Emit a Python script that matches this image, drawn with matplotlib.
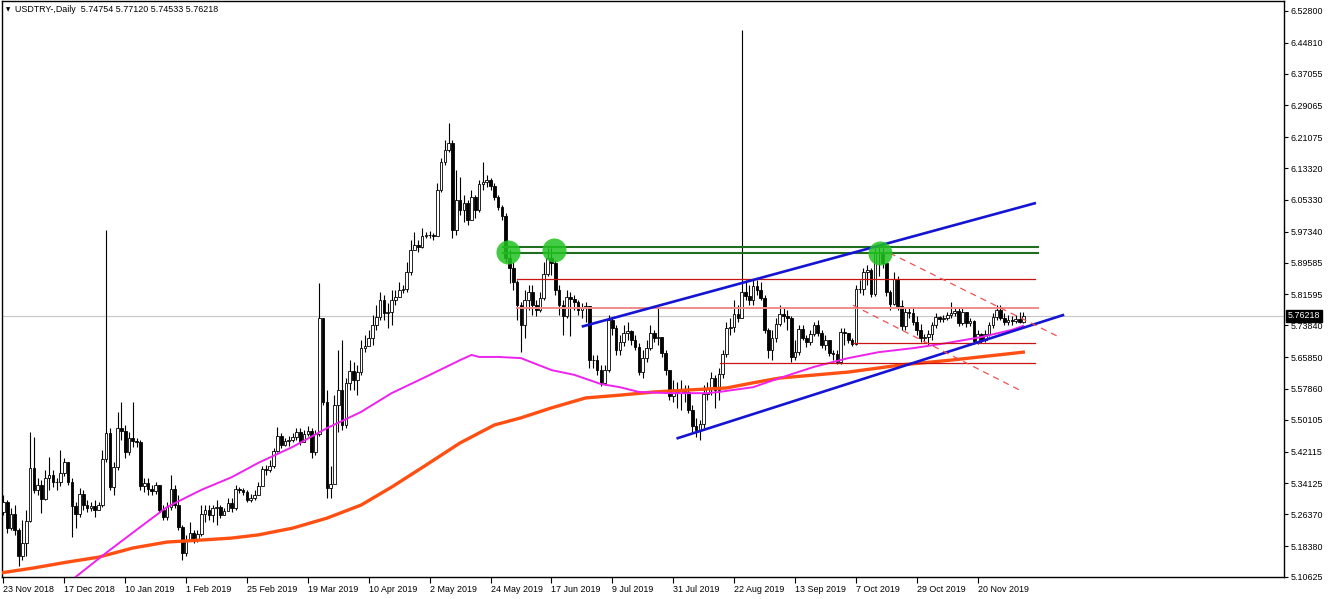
import numpy as np
import matplotlib.pyplot as plt
from matplotlib.transforms import blended_transform_factory

# daily candles (open = previous close)
first_open = 5.270
closes = [
    5.295, 5.229, 5.264, 5.224, 5.159, 5.192, 5.247, 5.380, 5.325, 5.337,
    5.302, 5.355, 5.362, 5.345, 5.345, 5.367, 5.395, 5.345, 5.284, 5.264,
    5.315, 5.287, 5.279, 5.284, 5.274, 5.287, 5.402, 5.468, 5.332, 5.382,
    5.480, 5.473, 5.420, 5.455, 5.448, 5.445, 5.335, 5.342, 5.327, 5.322,
    5.337, 5.274, 5.257, 5.282, 5.327, 5.287, 5.232, 5.167, 5.197, 5.217,
    5.199, 5.214, 5.264, 5.274, 5.262, 5.279, 5.282, 5.262, 5.272, 5.292,
    5.279, 5.327, 5.325, 5.320, 5.300, 5.305, 5.312, 5.335,
    5.377, 5.375, 5.385, 5.423, 5.460, 5.438, 5.448, 5.450, 5.458, 5.470,
    5.445, 5.465, 5.473, 5.420, 5.465, 5.757, 5.546, 5.330, 5.340, 5.538,
    5.576, 5.488, 5.594, 5.624, 5.601, 5.621, 5.681, 5.686, 5.706, 5.739,
    5.759, 5.802, 5.769, 5.772, 5.802, 5.810, 5.827, 5.830, 5.872, 5.928,
    5.940, 5.935, 5.963, 5.965, 5.965, 5.963, 6.078, 6.149, 6.179, 6.196,
    5.978, 6.053, 6.028, 6.045, 6.003, 6.061, 6.028, 6.093, 6.098, 6.103,
    6.088, 6.061, 6.036, 6.013, 5.907, 5.882, 5.847, 5.789,
    5.739, 5.802, 5.822, 5.789, 5.777, 5.807, 5.867, 5.907, 5.895, 5.827,
    5.789, 5.762, 5.810, 5.805, 5.797, 5.777, 5.782, 5.787, 5.651, 5.651,
    5.626, 5.594, 5.626, 5.752, 5.732, 5.676, 5.696, 5.719, 5.724, 5.701,
    5.684, 5.621, 5.656, 5.681, 5.719, 5.706, 5.709, 5.669, 5.626, 5.561,
    5.576, 5.568, 5.576, 5.571, 5.526, 5.485, 5.475, 5.490, 5.566, 5.579,
    5.606, 5.576, 5.616, 5.666, 5.732, 5.734, 5.767, 5.757, 5.822, 5.812,
    5.802, 5.837, 5.827, 5.807, 5.727, 5.676, 5.706, 5.742,
    5.767, 5.762, 5.757, 5.659, 5.671, 5.729, 5.706, 5.696, 5.716, 5.739,
    5.719, 5.689, 5.701, 5.669, 5.666, 5.646, 5.722, 5.719, 5.701, 5.691,
    5.830, 5.830, 5.872, 5.877, 5.817, 5.920, 5.922, 5.895, 5.822, 5.792,
    5.855, 5.787, 5.737, 5.772, 5.769, 5.747, 5.727, 5.706, 5.709, 5.716,
    5.739, 5.759, 5.754, 5.757, 5.764, 5.769, 5.774, 5.744, 5.772, 5.744,
    5.749, 5.699, 5.716, 5.701, 5.716, 5.739, 5.759, 5.777, 5.757, 5.747,
    5.752, 5.749, 5.754, 5.748, 5.76218,
]
highs = [
    5.312, 5.300, 5.279, 5.287, 5.229, 5.249, 5.274, 5.470, 5.458, 5.355,
    5.350, 5.375, 5.408, 5.375, 5.355, 5.425, 5.405, 5.395, 5.355, 5.295,
    5.330, 5.325, 5.300, 5.295, 5.300, 5.295, 5.425, 5.978, 5.480, 5.395,
    5.521, 5.546, 5.488, 5.470, 5.546, 5.455, 5.450, 5.355, 5.355, 5.337,
    5.345, 5.337, 5.287, 5.295, 5.362, 5.337, 5.312, 5.237, 5.212, 5.244,
    5.224, 5.224, 5.287, 5.287, 5.287, 5.287, 5.300, 5.287, 5.279, 5.305,
    5.305, 5.337, 5.332, 5.330, 5.325, 5.315, 5.325, 5.345,
    5.385, 5.387, 5.400, 5.430, 5.483, 5.468, 5.455, 5.460, 5.468, 5.480,
    5.480, 5.475, 5.485, 5.480, 5.475, 5.845, 5.757, 5.576, 5.385, 5.563,
    5.676, 5.701, 5.606, 5.651, 5.646, 5.639, 5.701, 5.714, 5.727, 5.764,
    5.789, 5.822, 5.815, 5.794, 5.827, 5.827, 5.847, 5.840, 5.897, 5.953,
    5.973, 5.953, 5.983, 5.973, 5.975, 5.970, 6.096, 6.159, 6.204, 6.246,
    6.204, 6.129, 6.111, 6.066, 6.053, 6.078, 6.066, 6.103, 6.149, 6.116,
    6.108, 6.096, 6.066, 6.041, 6.020, 5.928, 5.897, 5.852,
    5.797, 5.827, 5.840, 5.840, 5.802, 5.822, 5.897, 5.933, 5.933, 5.902,
    5.840, 5.802, 5.827, 5.822, 5.815, 5.802, 5.794, 5.797, 5.757, 5.664,
    5.664, 5.639, 5.639, 5.764, 5.757, 5.739, 5.714, 5.739, 5.747, 5.727,
    5.714, 5.694, 5.676, 5.701, 5.739, 5.727, 5.784, 5.709, 5.676, 5.626,
    5.601, 5.596, 5.601, 5.589, 5.589, 5.538, 5.506, 5.501, 5.589, 5.596,
    5.621, 5.614, 5.631, 5.676, 5.747, 5.757, 5.802, 5.789, 6.480, 5.852,
    5.840, 5.852, 5.852, 5.847, 5.815, 5.732, 5.727, 5.757,
    5.789, 5.782, 5.777, 5.762, 5.701, 5.739, 5.739, 5.714, 5.727, 5.747,
    5.752, 5.727, 5.714, 5.701, 5.676, 5.676, 5.732, 5.732, 5.714, 5.706,
    5.840, 5.852, 5.882, 5.890, 5.882, 5.933, 5.938, 5.933, 5.895, 5.827,
    5.872, 5.862, 5.802, 5.782, 5.782, 5.782, 5.762, 5.742, 5.716, 5.727,
    5.747, 5.769, 5.762, 5.764, 5.772, 5.797, 5.782, 5.782, 5.782, 5.757,
    5.757, 5.752, 5.727, 5.719, 5.727, 5.747, 5.769, 5.789, 5.789, 5.769,
    5.764, 5.762, 5.764, 5.772, 5.77120,
]
lows = [
    5.262, 5.217, 5.224, 5.212, 5.134, 5.149, 5.159, 5.244, 5.317, 5.312,
    5.267, 5.300, 5.325, 5.332, 5.325, 5.335, 5.360, 5.337, 5.207, 5.229,
    5.257, 5.274, 5.269, 5.272, 5.257, 5.274, 5.282, 5.395, 5.325, 5.312,
    5.375, 5.450, 5.405, 5.413, 5.433, 5.433, 5.325, 5.320, 5.312, 5.312,
    5.315, 5.269, 5.249, 5.249, 5.274, 5.279, 5.224, 5.149, 5.159, 5.199,
    5.192, 5.194, 5.209, 5.244, 5.249, 5.244, 5.237, 5.254, 5.264, 5.274,
    5.269, 5.274, 5.317, 5.312, 5.295, 5.295, 5.300, 5.312,
    5.335, 5.362, 5.370, 5.380, 5.420, 5.430, 5.435, 5.435, 5.445, 5.450,
    5.438, 5.450, 5.460, 5.405, 5.413, 5.460, 5.538, 5.305, 5.305, 5.350,
    5.470, 5.475, 5.480, 5.576, 5.576, 5.563, 5.614, 5.671, 5.689, 5.689,
    5.727, 5.752, 5.752, 5.732, 5.739, 5.789, 5.815, 5.820, 5.822, 5.865,
    5.928, 5.922, 5.933, 5.958, 5.958, 5.953, 5.978, 6.073, 6.141, 6.174,
    5.958, 5.965, 6.015, 5.998, 5.990, 6.015, 6.008, 6.023, 6.078, 6.086,
    6.078, 6.053, 6.028, 6.003, 5.897, 5.845, 5.827, 5.752,
    5.671, 5.706, 5.777, 5.764, 5.762, 5.772, 5.802, 5.862, 5.865, 5.815,
    5.764, 5.714, 5.757, 5.711, 5.777, 5.764, 5.757, 5.747, 5.631, 5.631,
    5.614, 5.586, 5.589, 5.621, 5.714, 5.664, 5.664, 5.686, 5.701, 5.689,
    5.676, 5.614, 5.606, 5.646, 5.676, 5.696, 5.689, 5.659, 5.614, 5.551,
    5.546, 5.531, 5.526, 5.546, 5.518, 5.470, 5.458, 5.450, 5.480, 5.551,
    5.563, 5.531, 5.551, 5.606, 5.659, 5.714, 5.722, 5.747, 5.757, 5.802,
    5.789, 5.789, 5.815, 5.802, 5.719, 5.656, 5.651, 5.696,
    5.737, 5.747, 5.727, 5.646, 5.651, 5.664, 5.701, 5.684, 5.689, 5.711,
    5.711, 5.681, 5.676, 5.661, 5.651, 5.641, 5.641, 5.689, 5.694, 5.686,
    5.689, 5.820, 5.815, 5.840, 5.810, 5.812, 5.862, 5.882, 5.812, 5.777,
    5.789, 5.777, 5.727, 5.727, 5.757, 5.739, 5.714, 5.696, 5.696, 5.689,
    5.701, 5.732, 5.747, 5.747, 5.752, 5.757, 5.762, 5.737, 5.739, 5.734,
    5.737, 5.691, 5.691, 5.694, 5.696, 5.711, 5.732, 5.752, 5.752, 5.739,
    5.739, 5.739, 5.744, 5.744, 5.74533,
]

# moving averages (magenta and orange), sampled at bar numbers
pink_bars = [15, 18, 27, 36, 43, 52, 60, 67, 76, 85, 94, 102, 111, 120, 123, 125, 130,
             136, 144, 150, 157, 162, 167, 175, 185, 188, 197, 204, 213, 222, 230,
             239, 248, 257, 265, 268]
pink_vals = [5.050, 5.099, 5.167, 5.232, 5.282, 5.325, 5.357, 5.393, 5.433, 5.480, 5.521,
             5.568, 5.609, 5.651, 5.664, 5.659, 5.659, 5.656, 5.626, 5.614, 5.591,
             5.583, 5.571, 5.568, 5.568, 5.571, 5.583, 5.606, 5.634, 5.656, 5.671,
             5.681, 5.694, 5.709, 5.727, 5.737]
orange_bars = [-1, 8, 17, 25, 34, 43, 52, 60, 67, 76, 85, 94, 102, 111, 120, 129, 136,
               144, 153, 162, 171, 180, 190, 197, 204, 222, 236, 249, 268]
orange_vals = [5.116, 5.129, 5.144, 5.156, 5.179, 5.194, 5.199, 5.204, 5.212, 5.229,
               5.254, 5.287, 5.332, 5.387, 5.443, 5.488, 5.506, 5.531, 5.556, 5.563,
               5.571, 5.576, 5.581, 5.594, 5.606, 5.621, 5.639, 5.651, 5.671]

# drawn objects: (start bar, end bar, price)
green_levels = [(131.3, 271.8, 5.936), (131.3, 271.8, 5.920)]
red_levels = [(134.9, 271.0, 5.854), (223.2, 271.0, 5.695), (188.3, 271.0, 5.645)]
pink_level = (134.9, 271.8, 5.782)
blue_lines = [((152.3, 5.736), (271.0, 6.045)), ((177.2, 5.455), (278.4, 5.764))]
dashed_lines = [((232.9, 5.920), (276.8, 5.712)), ((223.2, 5.789), (268.0, 5.571))]
circle_bars = [132.6, 144.7, 230.3]
circle_prices = [5.922, 5.928, 5.920]

price_ticks = [6.52800, 6.44810, 6.37055, 6.29065, 6.21075, 6.13320, 6.05330, 5.97340,
               5.89585, 5.81595, 5.73840, 5.65850, 5.57860, 5.50105, 5.42115, 5.34125,
               5.26370, 5.18380, 5.10625]
date_labels = ['23 Nov 2018', '17 Dec 2018', '10 Jan 2019', '1 Feb 2019', '25 Feb 2019',
               '19 Mar 2019', '10 Apr 2019', '2 May 2019', '24 May 2019', '17 Jun 2019',
               '9 Jul 2019', '31 Jul 2019', '22 Aug 2019', '13 Sep 2019', '7 Oct 2019',
               '29 Oct 2019', '20 Nov 2019']
last_price = 5.76218
header = 'USDTRY-,Daily  5.74754 5.77120 5.74533 5.76218'

plt.rcParams['font.family'] = ['Liberation Sans', 'DejaVu Sans']

c = np.array(closes)
o = np.array([first_open] + closes[:-1])
h = np.maximum(np.array(highs), np.maximum(o, c))
l = np.minimum(np.array(lows), np.minimum(o, c))
x = np.arange(len(c))
up = c >= o

fig = plt.figure(figsize=(13.32, 5.99), dpi=100)
ax = fig.add_axes([2 / 1332, 22 / 599, 1282 / 1332, 576 / 599])

ax.axhline(last_price, color='#c8c8c8', linewidth=0.8, zorder=0)

ax.vlines(x, l, h, color='black', linewidth=0.8, zorder=2)
ax.bar(x[up], (c - o)[up], bottom=o[up], width=0.7, color='white',
       edgecolor='black', linewidth=0.6, zorder=3)
ax.bar(x[~up], (o - c)[~up], bottom=c[~up], width=0.7, color='black',
       edgecolor='black', linewidth=0.6, zorder=3)

ax.plot(orange_bars, orange_vals, color='#ff4f12', linewidth=2.4, zorder=4)
ax.plot(pink_bars, pink_vals, color='#ee22ee', linewidth=1.4, zorder=4)

for x0, x1, p in green_levels:
    ax.plot([x0, x1], [p, p], color='#1f6f1f', linewidth=1.5, zorder=5)
for x0, x1, p in red_levels:
    ax.plot([x0, x1], [p, p], color='#c81414', linewidth=0.9, zorder=5)
ax.plot([pink_level[0], pink_level[1]], [pink_level[2]] * 2, color='#f08a8a',
        linewidth=1.4, zorder=5)
for (x0, y0), (x1, y1) in blue_lines:
    ax.plot([x0, x1], [y0, y1], color='#1414d2', linewidth=1.9, zorder=6)
for (x0, y0), (x1, y1) in dashed_lines:
    ax.plot([x0, x1], [y0, y1], color='#f05050', linewidth=0.9, dashes=(5, 4), zorder=6)
ax.scatter(circle_bars, circle_prices, s=300, color='#22c422', alpha=0.85,
           linewidths=0, zorder=7)

ax.set_xlim(-0.37, 336.5)
ax.set_ylim(5.1062, 6.5531)

ax.yaxis.tick_right()
ax.set_yticks(price_ticks)
ax.set_yticklabels(['%.5f' % t for t in price_ticks])
ax.tick_params(axis='y', length=3, width=0.8, pad=2, labelsize=6.4, colors='black')
ax.set_xticks(np.arange(len(date_labels)) * 16)
ax.set_xticklabels(date_labels)
for lab in ax.get_xticklabels():
    lab.set_horizontalalignment('left')
ax.tick_params(axis='x', length=4, width=0.8, pad=2, labelsize=6.4)
for sp in ax.spines.values():
    sp.set_color('black')
    sp.set_linewidth(1.0)

trans = blended_transform_factory(ax.transAxes, ax.transData)
ax.text(1.003, last_price, '%.5f' % last_price, transform=trans, ha='left', va='center',
        fontsize=6.4, color='white', clip_on=False, zorder=10,
        bbox=dict(facecolor='black', edgecolor='black', pad=1.2))

fig.text(6 / 1332, 1 - 10 / 599, '\u25bc', fontsize=4, family='DejaVu Sans', va='center')
fig.text(15 / 1332, 1 - 10 / 599, header, fontsize=6.4, va='center')

plt.savefig('out.png', dpi=100)
